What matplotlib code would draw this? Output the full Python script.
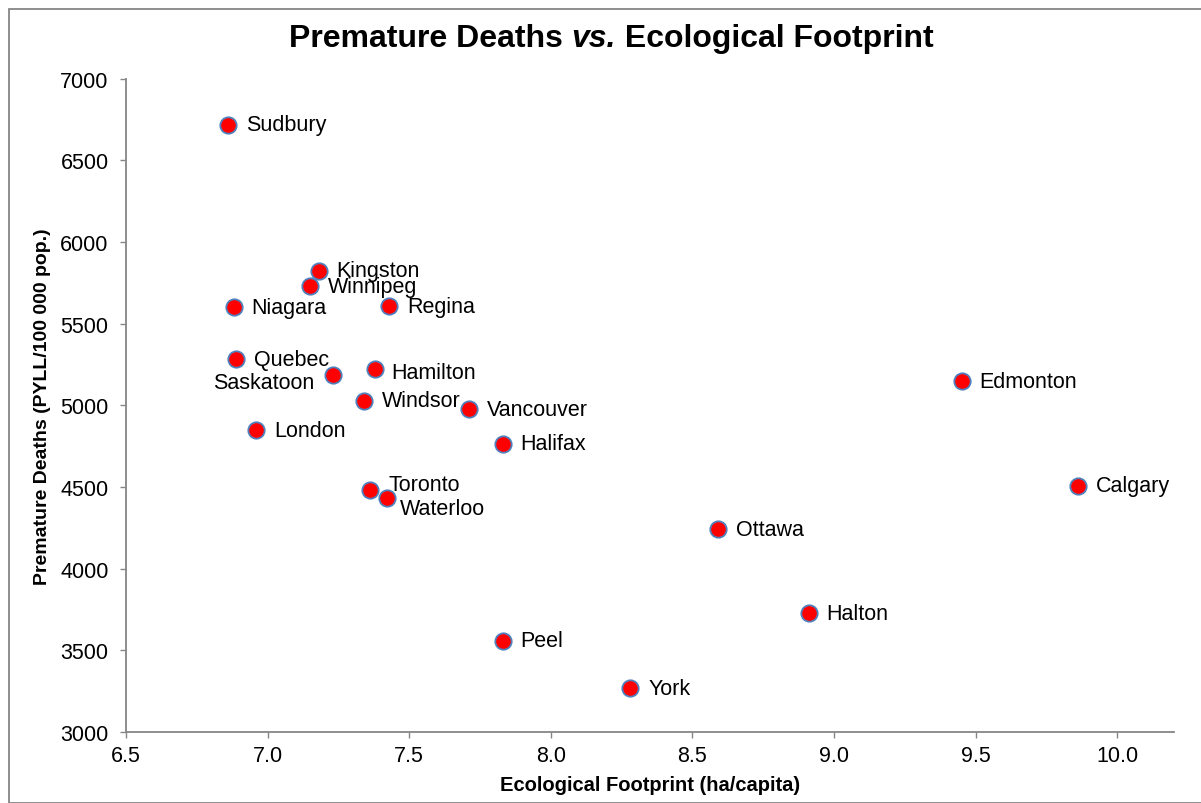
import matplotlib
matplotlib.use("Agg")
import matplotlib.pyplot as plt
from matplotlib.patches import Rectangle

# premature deaths (PYLL per 100 000) against ecological footprint (ha/capita)
cities = ["Sudbury", "Kingston", "Winnipeg", "Niagara", "Regina", "Quebec",
          "Saskatoon", "Hamilton", "Windsor", "Vancouver", "London", "Halifax",
          "Toronto", "Waterloo", "Edmonton", "Calgary", "Ottawa", "Halton",
          "Peel", "York"]
footprint = [6.86, 7.18, 7.15, 6.88, 7.43, 6.89,
             7.23, 7.38, 7.34, 7.71, 6.96, 7.83,
             7.36, 7.42, 9.45, 9.86, 8.59, 8.91,
             7.83, 8.28]
deaths = [6717, 5823, 5728, 5600, 5605, 5283,
          5185, 5222, 5028, 4977, 4848, 4763,
          4483, 4432, 5146, 4507, 4242, 3728,
          3558, 3269]

x_ticks = [6.5, 7.0, 7.5, 8.0, 8.5, 9.0, 9.5, 10.0]
y_ticks = [3000, 3500, 4000, 4500, 5000, 5500, 6000, 6500, 7000]

# label placement (pixels from the marker); most sit to the right
label_offset = {"Saskatoon": (-18, -7, "right"), "Hamilton": (16, -4, "left"),
                "Toronto": (19, 5, "left"), "Waterloo": (13, -10, "left")}

plt.rcParams["font.family"] = ["Liberation Sans", "DejaVu Sans"]

fig = plt.figure(figsize=(12.01, 8.04), dpi=100)
ax = fig.add_axes([126 / 1201, 71 / 804, 1048 / 1201, 653.5 / 804])

ax.plot(footprint, deaths, ls="none", marker="o", ms=11.8, mfc="#FF0000",
        mec="#4F81BD", mew=1.3, zorder=3)

for name, x, y in zip(cities, footprint, deaths):
    dx, dy, ha = label_offset.get(name, (18, 0, "left"))
    ax.annotate(name, (x, y), xytext=(dx, dy), textcoords="offset pixels",
                ha=ha, va="center", fontsize=15.5, color="#000000")

ax.set_xlim(6.5, 10.2)
ax.set_ylim(3000, 7000)
ax.set_xticks(x_ticks)
ax.set_xticklabels([f"{t:.1f}" for t in x_ticks])
ax.set_yticks(y_ticks)
ax.tick_params(direction="out", length=4.5, width=1, color="#868686",
               labelsize=15.5, labelcolor="#000000")
ax.tick_params(axis="y", pad=8)
ax.tick_params(axis="x", pad=5)
for side in ["top", "right"]:
    ax.spines[side].set_visible(False)
for side in ["left", "bottom"]:
    ax.spines[side].set_color("#868686")
    ax.spines[side].set_linewidth(1.3)

# title in three pieces so "vs." can be bold italic with normal spacing
title_parts = [("Premature Deaths ", "normal"), ("vs.", "italic"),
               (" Ecological Footprint", "normal")]
renderer = fig.canvas.get_renderer()
pieces = [fig.text(0, 1 - 39 / 804, s, ha="left", va="center", fontsize=23,
                   fontweight="bold", style=st) for s, st in title_parts]
widths = [p.get_window_extent(renderer).width for p in pieces]
x0 = 611 - sum(widths) / 2
for p, w in zip(pieces, widths):
    p.set_x(x0 / 1201)
    x0 += w

fig.text(650 / 1201, 1 - 786 / 804, "Ecological Footprint (ha/capita)",
         ha="center", va="center", fontsize=14.5, fontweight="bold")
fig.text(43 / 1201, 1 - 407 / 804, "Premature Deaths (PYLL/100 000 pop.)",
         ha="center", va="center", rotation=90, fontsize=14, fontweight="bold")

# outer chart frame (only the top and left edges fall inside the picture)
fig.patches.append(Rectangle((9 / 1201, 0), 1.2, 1 - 10 / 804,
                             transform=fig.transFigure, fill=False,
                             ec="#868686", lw=1.3))

fig.savefig("out.png", dpi=100)
